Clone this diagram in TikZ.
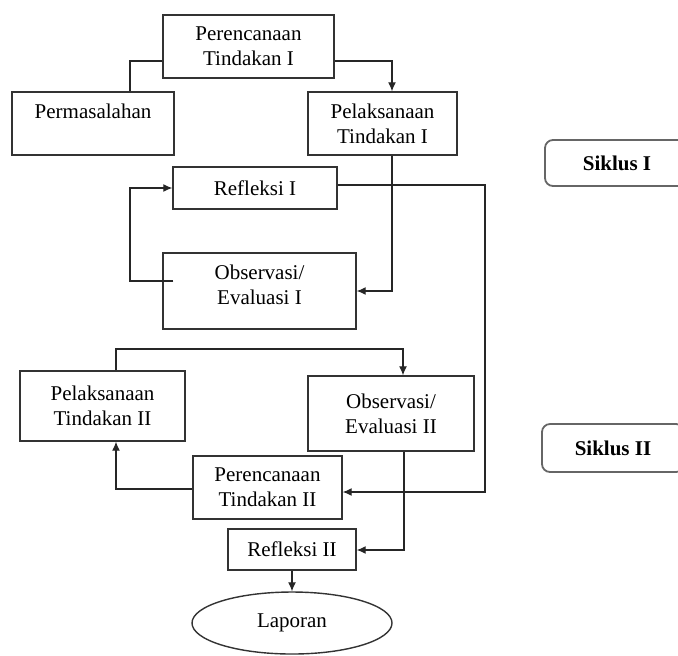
\documentclass[tikz,border=0pt]{standalone}
\usepackage{fontspec}
\setmainfont{Liberation Serif}
\usetikzlibrary{arrows.meta,positioning,shapes.geometric}

\begin{document}
\begin{tikzpicture}[x=0.5pt, y=-0.5pt,
  font=\fontsize{10.5}{12.5}\selectfont,
  box/.style={draw=black!80, line width=0.7pt, align=center, inner sep=0pt},
  siklus/.style={draw=black!60, line width=0.9pt, rounded corners=4pt,
    font=\fontsize{10.5}{12.5}\selectfont\bfseries, inner sep=0pt},
  ln/.style={draw=black!85, line width=0.6pt},
  arr/.style={ln, -{Latex[length=4.5pt,width=4pt]}}]
  \useasboundingbox (0,0) rectangle (678,655);
  \clip (0,0) rectangle (678,655);
  % Siklus I
  \node[box, minimum width=85.5pt, minimum height=31.5pt] (pt1) at (248.5,46.5) {Perencanaan\\Tindakan I};
  \node[box, minimum width=81pt, minimum height=31.5pt] (masalah) at (93,123.5) {Permasalahan\\\mbox{}};
  \node[box, minimum width=74.5pt, minimum height=31.5pt] (pl1) at (382.5,123.5) {Pelaksanaan\\Tindakan I};
  \node[box, minimum width=82pt, minimum height=21pt] (ref1) at (255,188) {Refleksi I};
  \node[box, minimum width=96.5pt, minimum height=38pt] (obs1) at (259.5,291) {Observasi/\\Evaluasi I\\[-6pt]\mbox{}};
  % Siklus II
  \node[box, minimum width=82.5pt, minimum height=35pt] (pl2) at (102.5,406) {Pelaksanaan\\Tindakan II};
  \node[box, minimum width=83pt, minimum height=37.5pt] (obs2) at (391,413.5) {Observasi/\\Evaluasi II};
  \node[box, minimum width=74.5pt, minimum height=31.5pt] (pt2) at (267.5,487.5) {Perencanaan\\Tindakan II};
  \node[box, minimum width=64pt, minimum height=20.5pt] (ref2) at (292,549.5) {Refleksi II};
  \node[box, ellipse, minimum width=100pt, minimum height=31pt] (lap) at (292,623) {Laporan};
  % Cycle labels
  \node[siklus, minimum width=72pt, minimum height=23pt] (sik1) at (617,163) {Siklus I};
  \node[siklus, minimum width=71pt, minimum height=24pt] (sik2) at (613,448) {Siklus II};
  % Bend points
  \coordinate (c1) at (130,61);
  \coordinate (c2) at (392,61);
  \coordinate (c3) at (392,291);
  \coordinate (c4) at (485,185);
  \coordinate (c5) at (485,492);
  \coordinate (c6) at (130,281);
  \coordinate (c7) at (116,349);
  \coordinate (c8) at (403,349);
  \coordinate (c9) at (116,489);
  \coordinate (c10) at (404,550);
  % Connectors
  \draw[ln] (pt1.west |- c1) -- (c1) -- (c1 |- masalah.north);
  \draw[arr] (pt1.east |- c2) -- (c2) -- (c2 |- pl1.north);
  \draw[arr] (c3 |- pl1.south) -- (c3) -- (obs1.east |- c3);
  \draw[arr] ([xshift=5.5pt]obs1.west |- c6) -- (c6) |- (ref1.west);
  \draw[arr] (ref1.east |- c4) -- (c4) -- (c5) -- (pt2.east |- c5);
  \draw[arr] (c7 |- pl2.north) -- (c7) -- (c8) -- (c8 |- obs2.north);
  \draw[arr] (pt2.west |- c9) -- (c9) -- (c9 |- pl2.south);
  \draw[arr] (c10 |- obs2.south) -- (c10) -- (ref2.east |- c10);
  \draw[arr] (ref2.south) -- (lap.north);
\end{tikzpicture}
\end{document}
